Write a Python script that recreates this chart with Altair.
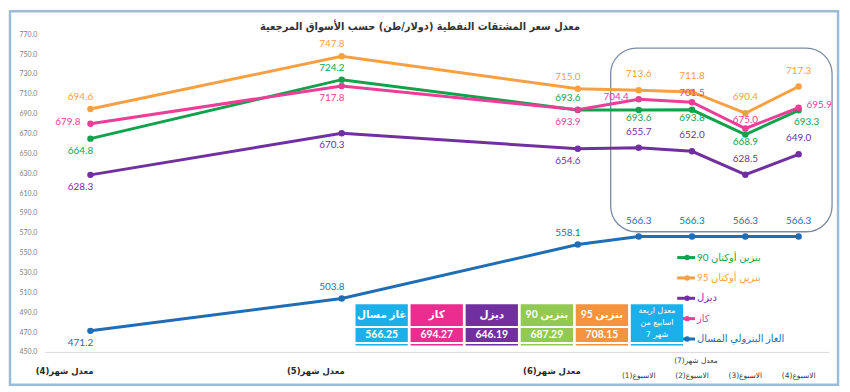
import altair as alt
import pandas as pd

# ---------------- data ----------------
title_text = "معدل سعر المشتقات النفطية (دولار/طن) حسب الأسواق المرجعية"
categories = ["معدل شهر(4)", "معدل شهر(5)", "معدل شهر(6)",
              "الاسبوع(1)", "الاسبوع(2)", "الاسبوع(3)", "الاسبوع(4)"]
category_kind = ["month", "month", "month", "week", "week", "week", "week"]
period_dates = ["2023-04-22T00:00:00", "2023-05-25T00:00:00", "2023-06-25T00:00:00",
                "2023-07-03T00:00:00", "2023-07-10T00:00:00", "2023-07-17T00:00:00",
                "2023-07-24T00:00:00"]
month7_label = "معدل شهر(7)"
month7_anchor = "2023-07-10T00:00:00"

series_names = ["بنزين أوكتان 90", "بنزين أوكتان 95", "ديزل", "كاز", "الغاز البترولي المسال"]
octane90 = [664.8, 724.2, 693.6, 693.6, 693.8, 668.9, 693.3]
octane95 = [694.6, 747.8, 715.0, 713.6, 711.8, 690.4, 717.3]
diesel = [628.3, 670.3, 654.6, 655.7, 652.0, 628.5, 649.0]
kerosene = [679.8, 717.8, 693.9, 704.4, 701.5, 675.0, 695.9]
lpg = [471.2, 503.8, 558.1, 566.3, 566.3, 566.3, 566.3]
series_values = [octane90, octane95, diesel, kerosene, lpg]

table_headers = ["غاز مسال", "كاز", "ديزل", "بنزين 90", "بنزين 95"]
table_values = ["566.25", "694.27", "646.19", "687.29", "708.15"]
table_note = "معدل اربعة\nاسابيع من\nشهر 7"

y_ticks = list(range(450, 771, 20))

# ---------------- styling / layout ----------------
series_colors = ["#12a24c", "#f7a043", "#7030a0", "#ec3d97", "#1f6db5"]
table_colors = ["#1cb0ea", "#ec2c8f", "#7030a0", "#92c950", "#f7933c"]
note_color = "#1cb0ea"
label_place = [
    ["below", "above", "above", "below", "below", "below", "belowright"],
    ["above"] * 7,
    ["below", "below", "below", "above", "above", "above", "above"],
    ["left", "below", "below", "left", "near", "near", "right"],
    ["below"] + ["above"] * 6,
]

rows = []
for name, vals, places in zip(series_names, series_values, label_place):
    for cat, kind, d, v, p in zip(categories, category_kind, period_dates, vals, places):
        rows.append({"series": name, "category": cat, "kind": kind, "date": d, "value": v,
                     "label": f"{v:.1f}", "place": p})
df = pd.DataFrame(rows)

cat_df = pd.DataFrame({"category": categories, "date": period_dates, "kind": category_kind})
m7_df = pd.DataFrame({"category": [month7_label], "date": [month7_anchor]})
one = pd.DataFrame({"t": [title_text]})

color_scale = alt.Scale(domain=series_names, range=series_colors)
x_scale = alt.Scale(domain=[alt.DateTime(year=2023, month=4, date=16),
                            alt.DateTime(year=2023, month=7, date=28)])
y_scale = alt.Scale(domain=[450, 770], nice=False, zero=False)

X = alt.X("date:T", scale=x_scale,
          axis=alt.Axis(labels=False, ticks=False, grid=False, title=None,
                        domainColor="#d9d9d9", domainWidth=1))
Y = alt.Y("value:Q", scale=y_scale,
          axis=alt.Axis(values=y_ticks, format=".1f", grid=False, ticks=False,
                        domain=False, title=None, labelFontSize=7,
                        labelColor="#808080", labelPadding=8, labelFont="Lato"))
C = alt.Color("series:N", scale=color_scale, legend=None)

base = alt.Chart(df).encode(x=X, y=Y, color=C)

frame = alt.Chart(one).mark_rect(fillOpacity=0, stroke="#9bbbd6", strokeWidth=2.5).encode(
    x=alt.value(-35), x2=alt.value(799), y=alt.value(-23), y2=alt.value(353))
box = alt.Chart(one).mark_rect(fillOpacity=0, stroke="#7b8ba3", strokeWidth=1.3,
                               cornerRadius=26).encode(
    x=alt.value(570), x2=alt.value(793), y=alt.value(14), y2=alt.value(199))
title = alt.Chart(one).mark_text(font="DejaVu Sans Condensed, DejaVu Sans", fontWeight="bold",
                                 fontSize=11, color="#333333", baseline="middle").encode(
    x=alt.value(378), y=alt.value(-7), text="t:N")

lines = base.mark_line(strokeWidth=3)
points = base.mark_circle(size=42, opacity=1)

lbl_font = dict(font="Lato", fontSize=10)


def lab(place, kind=None, **kw):
    c = base.transform_filter(alt.datum.place == place)
    if kind is not None:
        c = c.transform_filter(alt.datum.kind == kind)
    return c.mark_text(**lbl_font, **kw).encode(text="label:N")


labels = [
    lab("above", "month", dy=-12, dx=-10),
    lab("above", "week", dy=-16),
    lab("below", "month", dy=12, dx=-10),
    lab("below", "week", dy=8),
    lab("belowright", dy=12, dx=8),
    lab("near", dy=-9),
    lab("left", dx=-10, dy=-2, align="right"),
    lab("right", dx=8, dy=-3, align="left"),
]

cat_base = alt.Chart(cat_df).encode(x=X)
month_lbl = cat_base.transform_filter(alt.datum.kind == "month").mark_text(
    font="DejaVu Sans", fontWeight="bold", fontSize=8.5, color="#262626", align="right", dx=3
).encode(y=alt.value(339), text="category:N")
week_lbl = cat_base.transform_filter(alt.datum.kind == "week").mark_text(
    font="DejaVu Sans", fontSize=7.5, color="#404040"
).encode(y=alt.value(344), text="category:N")
m7_lbl = alt.Chart(m7_df).mark_text(font="DejaVu Sans", fontSize=7.5, color="#404040", dx=4).encode(
    x=X, y=alt.value(329), text="category:N")

main = alt.layer(frame, box, lines, points, *labels, month_lbl, week_lbl, m7_lbl, title)

# ---------------- legend ----------------
leg_df = pd.DataFrame({"series": series_names})
LY = alt.Y("series:N", scale=alt.Scale(type="point", domain=series_names, range=[225, 307], padding=0),
           axis=None)
leg_rule = alt.Chart(leg_df).mark_rule(strokeWidth=3).encode(
    x=alt.value(637), x2=alt.value(655), y=LY, color=C)
leg_pt = alt.Chart(leg_df).mark_circle(size=30, opacity=1).encode(
    x=alt.value(647), y=LY, color=C)
leg_txt = alt.Chart(leg_df).mark_text(align="left", font="Lato, DejaVu Sans", fontSize=10,
                                      baseline="middle").encode(
    x=alt.value(657), y=LY, color=C, text="series:N")
legend = alt.layer(leg_rule, leg_pt, leg_txt)

# ---------------- table ----------------
tab_df = pd.DataFrame({"col": table_headers, "val": table_values, "fillc": table_colors})
note_df = pd.DataFrame({"col": [table_note], "fillc": [note_color]})
TX = alt.X("col:N", scale=alt.Scale(type="band", domain=table_headers + [table_note],
                                    range=[313, 643], paddingInner=0.05, paddingOuter=0),
           axis=None)
F = alt.Fill("fillc:N", scale=None, legend=None)
t_head = alt.Chart(tab_df).mark_rect().encode(x=TX, y=alt.value(272), y2=alt.value(294), fill=F)
t_val = alt.Chart(tab_df).mark_rect().encode(x=TX, y=alt.value(296), y2=alt.value(310), fill=F)
t_ul = alt.Chart(tab_df).mark_rect().encode(x=TX, y=alt.value(312), y2=alt.value(313.5), fill=F)
n_rect = alt.Chart(note_df).mark_rect().encode(x=TX, y=alt.value(272), y2=alt.value(310), fill=F)
n_ul = alt.Chart(note_df).mark_rect().encode(x=TX, y=alt.value(312), y2=alt.value(313.5), fill=F)
t_htxt = alt.Chart(tab_df).mark_text(font="Lato, DejaVu Sans", fontWeight="bold", fontSize=10.5,
                                     color="white", baseline="middle").encode(
    x=TX, y=alt.value(283), text="col:N")
t_vtxt = alt.Chart(tab_df).mark_text(font="Lato", fontWeight="bold", fontSize=10.5,
                                     color="white", baseline="middle").encode(
    x=TX, y=alt.value(303.5), text="val:N")
n_txt = alt.Chart(note_df).mark_text(font="DejaVu Sans", fontSize=8, color="white",
                                     lineBreak="\n", baseline="middle", lineHeight=12).encode(
    x=TX, y=alt.value(279), text="col:N")
table = alt.layer(t_head, t_val, t_ul, n_rect, n_ul, t_htxt, t_vtxt, n_txt)

chart = alt.layer(main, legend, table).resolve_scale(
    x="independent", y="independent"
).properties(
    width=790, height=320,
    padding={"left": 37, "top": 25, "right": 13, "bottom": 36},
    autosize=alt.AutoSizeParams(type="none"),
    background="white",
).configure_view(stroke=None)

chart.save("out.html", embed_options={"renderer": "svg", "actions": False})
